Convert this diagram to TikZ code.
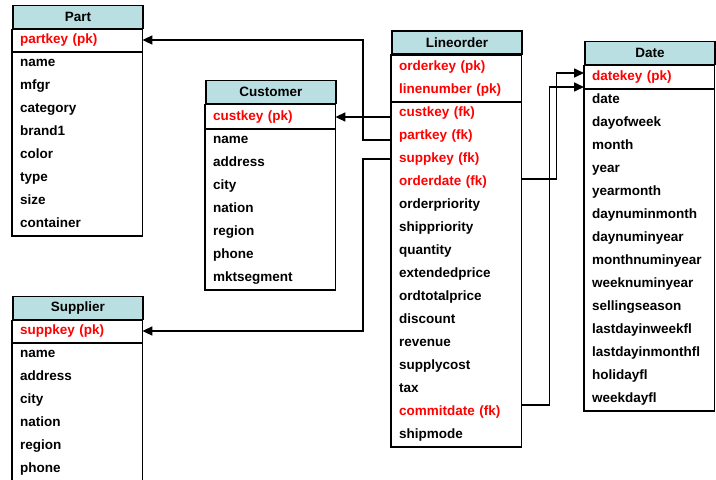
\documentclass[tikz,border=0pt]{standalone}
\usepackage{fontspec}
\setmainfont{Liberation Sans}
\usetikzlibrary{arrows.meta}

\definecolor{headfill}{RGB}{185,223,226}
\definecolor{keyred}{RGB}{255,0,0}

\tikzset{
  head/.style={anchor=west, draw, fill=headfill, line width=1.8pt,
    minimum width=130pt, minimum height=23pt, inner sep=0pt},
  field/.style={anchor=west, inner xsep=8pt, inner ysep=0pt,
    text width=114pt, text height=10pt, text depth=3pt,
    minimum height=23pt, align=left},
  key/.style={field, text=keyred},
  frame/.style={line width=1.8pt},
  link/.style={line width=1.6pt, -{Triangle[length=10pt,width=9pt]}}
}

\begin{document}
\begin{tikzpicture}[x=1pt,y=-1pt,
    every node/.style={font=\fontsize{13.5}{16}\selectfont\bfseries}]
  \useasboundingbox (0,0) rectangle (716,480);

  % Part
  \draw
    (12,17) node[head] (pa) {Part}
    (12,40) node[key] (pa-partkey) {partkey (pk)}
    (12,63) node[field] (pa-name) {name}
    (12,86) node[field] (pa-mfgr) {mfgr}
    (12,109) node[field] (pa-category) {category}
    (12,132) node[field] (pa-brand1) {brand1}
    (12,155) node[field] (pa-color) {color}
    (12,178) node[field] (pa-type) {type}
    (12,201) node[field] (pa-size) {size}
    (12,224) node[field] (pa-container) {container};
  \draw[frame] (pa.south west) rectangle (pa-container.south east);
  \draw[frame] (pa-partkey.south west) -- (pa-partkey.south east);

  % Customer
  \draw
    (205,92) node[head] (cu) {Customer}
    (205,117) node[key] (cu-custkey) {custkey (pk)}
    (205,140) node[field] (cu-name) {name}
    (205,163) node[field] (cu-address) {address}
    (205,186) node[field] (cu-city) {city}
    (205,209) node[field] (cu-nation) {nation}
    (205,232) node[field] (cu-region) {region}
    (205,255) node[field] (cu-phone) {phone}
    (205,278) node[field] (cu-mktsegment) {mktsegment};
  \draw[frame] (cu.south west) rectangle (cu-mktsegment.south east);
  \draw[frame] (cu-custkey.south west) -- (cu-custkey.south east);

  % Supplier
  \draw
    (12,308) node[head] (su) {Supplier}
    (12,331) node[key] (su-suppkey) {suppkey (pk)}
    (12,354) node[field] (su-name) {name}
    (12,377) node[field] (su-address) {address}
    (12,400) node[field] (su-city) {city}
    (12,423) node[field] (su-nation) {nation}
    (12,446) node[field] (su-region) {region}
    (12,469) node[field] (su-phone) {phone};
  \draw[frame] (su.south west) rectangle ([yshift=-6pt]su-phone.south east);
  \draw[frame] (su-suppkey.south west) -- (su-suppkey.south east);

  % Lineorder
  \draw
    (391,42.5) node[head] (lo) {Lineorder}
    (391,67) node[key] (lo-orderkey) {orderkey (pk)}
    (391,90) node[key] (lo-linenumber) {linenumber (pk)}
    (391,113) node[key] (lo-custkey) {custkey (fk)}
    (391,136) node[key] (lo-partkey) {partkey (fk)}
    (391,159) node[key] (lo-suppkey) {suppkey (fk)}
    (391,182) node[key] (lo-orderdate) {orderdate (fk)}
    (391,205) node[field] (lo-orderpriority) {orderpriority}
    (391,228) node[field] (lo-shippriority) {shippriority}
    (391,251) node[field] (lo-quantity) {quantity}
    (391,274) node[field] (lo-extendedprice) {extendedprice}
    (391,297) node[field] (lo-ordtotalprice) {ordtotalprice}
    (391,320) node[field] (lo-discount) {discount}
    (391,343) node[field] (lo-revenue) {revenue}
    (391,366) node[field] (lo-supplycost) {supplycost}
    (391,389) node[field] (lo-tax) {tax}
    (391,412) node[key] (lo-commitdate) {commitdate (fk)}
    (391,435) node[field] (lo-shipmode) {shipmode};
  \draw[frame] (lo.south west) rectangle (lo-shipmode.south east);
  \draw[frame] (lo-linenumber.south west) -- (lo-linenumber.south east);

  % Date
  \draw
    (584,53) node[head] (da) {Date}
    (584,77) node[key] (da-datekey) {datekey (pk)}
    (584,100) node[field] (da-date) {date}
    (584,123) node[field] (da-dayofweek) {dayofweek}
    (584,146) node[field] (da-month) {month}
    (584,169) node[field] (da-year) {year}
    (584,192) node[field] (da-yearmonth) {yearmonth}
    (584,215) node[field] (da-daynuminmonth) {daynuminmonth}
    (584,238) node[field] (da-daynuminyear) {daynuminyear}
    (584,261) node[field] (da-monthnuminyear) {monthnuminyear}
    (584,284) node[field] (da-weeknuminyear) {weeknuminyear}
    (584,307) node[field] (da-sellingseason) {sellingseason}
    (584,330) node[field] (da-lastdayinweekfl) {lastdayinweekfl}
    (584,353) node[field] (da-lastdayinmonthfl) {lastdayinmonthfl}
    (584,376) node[field] (da-holidayfl) {holidayfl}
    (584,399) node[field] (da-weekdayfl) {weekdayfl};
  \draw[frame] (da.south west) rectangle (da-weekdayfl.south east);
  \draw[frame] (da-datekey.south west) -- (da-datekey.south east);

  % foreign keys
  \begin{scope}[link]
    \draw (lo-custkey.west |- cu-custkey.east) -- (cu-custkey.east);
    \draw ([yshift=-4pt]lo-partkey.west) -- ++(-28,0) |- (pa-partkey.east);
    \draw (lo-suppkey.west) -- ++(-28,0) |- (su-suppkey.east);
    \draw ([yshift=3pt]lo-orderdate.east) -- ++(35,0) |- ([yshift=4pt]da-datekey.west);
    \draw ([yshift=7pt]lo-commitdate.east) -- ++(28,0) |- ([yshift=-10pt]da-datekey.west);
  \end{scope}
\end{tikzpicture}
\end{document}
